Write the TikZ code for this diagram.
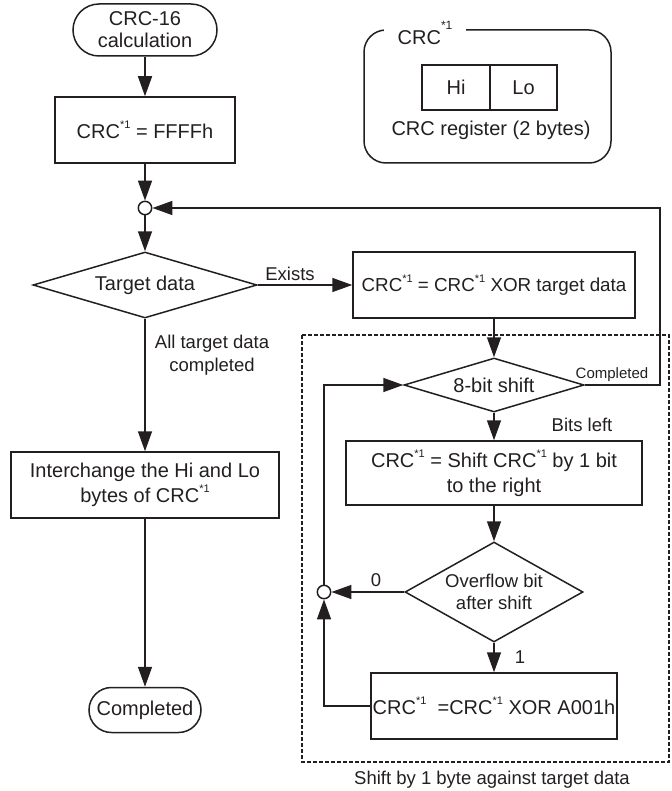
\documentclass[tikz,border=0pt]{standalone}
\usepackage{fontspec}
\setmainfont{Liberation Sans}
\usepackage{tikz}
\usetikzlibrary{positioning,shapes.geometric,arrows.meta,calc}
\definecolor{ink}{HTML}{231F20}
\newcommand{\CRCs}{CRC\raisebox{0.95ex}{\fontsize{5.5}{6}\selectfont *1}}
\tikzset{
  >={Triangle[length=10pt,width=7pt]},
  every node/.style={font=\fontsize{10}{12.5}\selectfont, text=ink},
  % --- nodes
  box/.style     = {draw=ink, line width=0.75pt, rectangle, align=center, inner sep=0pt},
  term/.style    = {box, rounded corners=11pt},
  cond/.style    = {draw=ink, line width=0.75pt, diamond, align=center, inner sep=0pt},
  dot/.style     = {draw=ink, fill=white, line width=0.75pt, circle, inner sep=0pt,
                    minimum size=6.7pt},
  lbl/.style     = {font=\fontsize{9.25}{11.5}\selectfont, align=center, inner sep=1pt},
  tiny/.style    = {font=\fontsize{7.5}{9}\selectfont, inner sep=1pt},
  % --- edges
  e/.style       = {->, draw=ink, line width=0.75pt},
  l/.style       = {draw=ink, line width=0.75pt},
}
\begin{document}
\begin{tikzpicture}[x=0.5pt,y=-0.5pt]
  \useasboundingbox (0,0) rectangle (671,791);
  % main column
  \node[term, rounded corners=13pt, minimum width=72pt, minimum height=26pt] (start) at (145,30)
    {CRC-16\\[-1.5pt]calculation};
  \node[box, minimum width=90pt, minimum height=33pt] (init) at (145,130) {\CRCs\ = FFFFh};
  \node[dot] (j1) at (145,208) {};
  \node[cond, aspect=3.4, minimum width=112pt, minimum height=33pt] (target) at (145,285)
    {Target data};
  \node[box, minimum width=134pt, minimum height=33pt] (swap) at (145,485)
    {Interchange the Hi and Lo\\bytes of \CRCs};
  \node[term, rounded corners=11.25pt, minimum width=56pt, minimum height=22.5pt] (done) at (145,710)
    {Completed};
  % register
  \node[box, rounded corners=11pt, minimum width=123.5pt, minimum height=66.5pt] (reg) at (487.5,96.5) {};
  \node[fill=white, inner xsep=7pt, inner ysep=1pt] (regname) at (425,33)
    {CRC\raisebox{1.4ex}{\fontsize{6}{6}\selectfont *1}};
  \node[box, minimum width=34pt, minimum height=22.5pt] (hi) at (456,87.5) {Hi};
  \node[box, minimum width=33.5pt, minimum height=22.5pt] (lo) at (523.5,87.5) {Lo};
  \node (regtxt) at (491,130) {CRC register (2 bytes)};
  % byte loop
  \node[box, minimum width=141pt, minimum height=33pt, font=\fontsize{9.4}{12}\selectfont] (xor) at (494,285)
    {\CRCs\ = \CRCs\ XOR target data};
  \node[cond, aspect=3.3, minimum width=90pt, minimum height=27pt] (bits) at (494,385) {8-bit shift};
  \node[box, minimum width=148pt, minimum height=32pt] (shift) at (494,473)
    {\CRCs\ = Shift \CRCs\ by 1 bit\\to the right};
  \node[cond, aspect=1.78, minimum width=89pt, minimum height=50pt,
        font=\fontsize{9.25}{11}\selectfont] (ovf) at (494,592) {Overflow bit\\after shift};
  \node[box, minimum width=123pt, minimum height=33pt] (poly) at (494,706)
    {\CRCs\ \ =\CRCs\ XOR A001h};
  \node[dot] (j2) at (324,592) {};
  \coordinate (c1) at (660,208);
  \draw[dash pattern=on 2pt off 1pt, draw=ink, line width=0.6pt] (302,335) rectangle (669,762);
  % labels
  \node[lbl, anchor=base] (lexists) at (290,280) {Exists};
  \node[lbl] (lall) at (212,355) {All target data\\completed};
  \node[tiny, anchor=south] (lcomp) at (612,384) {Completed};
  \node[lbl] (lbits) at (582,425) {Bits left};
  \node[lbl] (lzero) at (376,580) {0};
  \node[lbl] (lone) at (520,657) {1};
  \node[lbl] (cap) at (492,780) {Shift by 1 byte against target data};
  % connectors
  \draw[e] (start) -- (init);
  \draw[e] (init) -- (j1);
  \draw[e] (j1) -- (target);
  \draw[e] (target) -- (xor);
  \draw[e] (target) -- (swap);
  \draw[e] (swap) -- (done);
  \draw[e] (xor) -- (bits);
  \draw[e] (bits) -- (shift);
  \draw[e] (shift) -- (ovf);
  \draw[e] (ovf) -- (poly);
  \draw[e] (ovf) -- (j2);
  \draw[e] (poly.west) -| (j2);
  \draw[e] (j2) |- (bits.west);
  \draw[e] (bits.east) -| (c1) -- (j1);
\end{tikzpicture}
\end{document}
